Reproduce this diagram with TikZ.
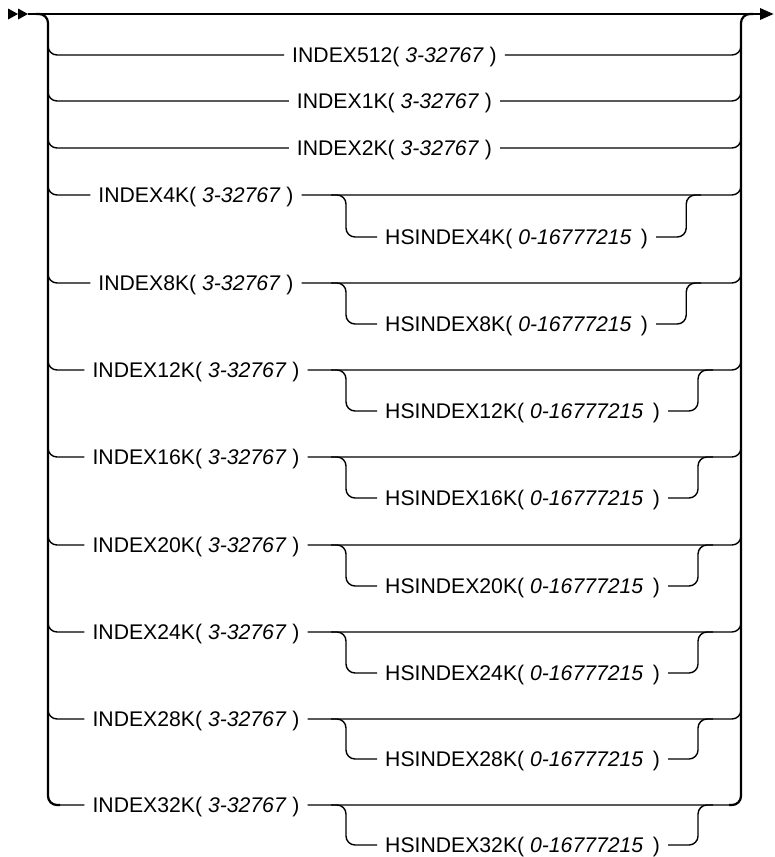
\documentclass[tikz,border=0pt]{standalone}
\usepackage{fontspec}
\setmainfont{Liberation Sans}
\usetikzlibrary{calc}
\begin{document}
\begin{tikzpicture}[x=1pt,y=-1pt,
  conn/.style={line width=1.4pt, rounded corners=9pt},
  rail/.style={line width=2.2pt, rounded corners=9pt},
  mainline/.style={line width=1.3pt},
  lbl/.style={font=\fontsize{21.2}{25}\selectfont, text height=15.2pt, text depth=0pt, inner xsep=8pt, inner ysep=0pt}]
\useasboundingbox (0,0) rectangle (774,857);
% end points and rails
\coordinate (start) at (28,14);
\coordinate (end) at (760,14);
\coordinate (L) at (48,14);
\coordinate (R) at (741,14);
\coordinate (B) at (346,14);
\draw[mainline] (start) -- (end);
\fill (8,8.5) -- (18,14) -- (8,19.5) -- cycle;
\fill (18,8.5) -- (28,14) -- (18,19.5) -- cycle;
\fill (760,8) -- (773.5,14) -- (760,20) -- cycle;
% centred rows
\node[lbl] (i512) at (394.5,55) {INDEX512( \textit{3-32767} )};
\node[lbl] (i1) at (394.5,101) {INDEX1K( \textit{3-32767} )};
\node[lbl] (i2) at (394.5,148) {INDEX2K( \textit{3-32767} )};
\foreach \nm in {i512,i1,i2}{
  \draw[conn] ($(L |- \nm)+(0,-15)$) -- (L |- \nm) -- (\nm.west);
  \draw[conn] (\nm.east) -- (R |- \nm) -- ($(R |- \nm)+(0,-15)$);
}
% rows with optional HSINDEX
\foreach \sz/\yy/\hy in {4/195/237, 8/283/324, 12/370/411, 16/457/498, 20/545/586, 24/632/673, 28/719/759, 32/805/845}{
  \node[lbl] (i\sz) at (196,\yy) {INDEX\sz K( \textit{3-32767} )};
  \node[lbl, anchor=west] (h\sz) at (377,\hy) {HSINDEX\sz K( \textit{0-16777215} \,)};
  \coordinate (b\sz) at (B |- i\sz);
  \coordinate (r\sz) at ($(h\sz.east)+(30,0)$);
  \draw[conn] ($(L |- i\sz)+(0,-15)$) -- (L |- i\sz) -- (i\sz.west);
  \draw[conn] (i\sz.east) -- (R |- i\sz) -- ($(R |- i\sz)+(0,-15)$);
  \draw[conn] ($(b\sz)+(-15,0)$) -- (b\sz) -- (b\sz |- h\sz) -- (h\sz.west);
  \draw[conn] (h\sz.east) -- (r\sz) -- (r\sz |- i\sz) -- ($(r\sz |- i\sz)+(15,0)$);
}
\draw[rail] ($(L)+(-12,0)$) -- (L) -- (L |- i32) -- ($(L |- i32)+(12,0)$);
\draw[rail] ($(R |- i32)+(-12,0)$) -- (R |- i32) -- (R) -- ($(R)+(12,0)$);
\end{tikzpicture}
\end{document}
